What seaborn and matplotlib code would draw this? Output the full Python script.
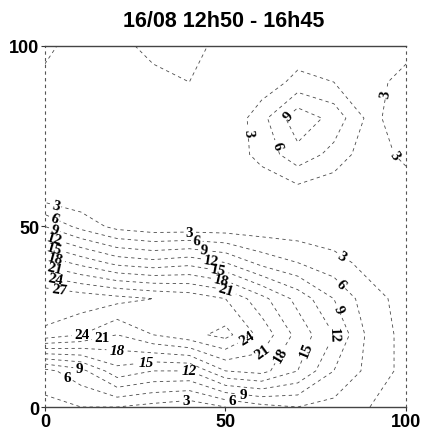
import numpy as np
import seaborn as sns
from matplotlib import pyplot as plt

# grid (x, y in 0..100, values in the contour units)
x_pos = [0, 10, 20, 30, 40, 50, 60, 70, 80, 90, 100]
y_pos = [0, 10, 20, 30, 40, 50, 60, 70, 80, 90, 100]
z_rows = [
    [2, 3, 3, 2, 1, 3, 5, 6, 5, 3, 1],            # y = 0
    [5, 8, 14, 12, 12, 18, 19, 15, 9, 5, 2],      # y = 10
    [26, 24, 21, 24, 26, 28, 23, 17, 12, 5, 2],   # y = 20
    [30, 29, 28, 27, 26, 24, 19, 14, 9, 4, 2],    # y = 30
    [20, 17, 14, 13, 14, 12, 8, 6, 4, 2, 1],      # y = 40
    [9, 5, 2, 1, 1, 1, 1, 1, 1, 0, 0],            # y = 50
    [0, 0, 0, 0, 0, 1, 1, 2, 1, 1, 1],            # y = 60
    [0, 0, 0, 0, 1, 1, 4, 8, 5, 1, 4],            # y = 70
    [1, 1, 1, 1, 2, 0, 5, 11, 8, 2, 5],           # y = 80
    [2, 1, 1, 2, 3, 2, 1, 4, 3, 2, 4],            # y = 90
    [4, 1, 2, 4, 4, 2, 1, 1, 1, 2, 2],            # y = 100
]
title = '16/08 12h50 - 16h45'
ticks = [0, 50, 100]
levels = [3, 6, 9, 12, 15, 18, 21, 24, 27]

# label spots per level: rotated along the line / upright
spots_rot = {
    3: [(3, 56), (40, 47), (83, 43), (56, 76), (93, 87), (96, 69)],
    6: [(3, 53), (42, 45), (83, 35), (63, 72)],
    9: [(3, 50), (44, 43), (83, 28), (68, 80)],
    12: [(3, 47.5), (46, 40), (81, 20)],
    15: [(3, 45), (48, 38), (75, 15)],
    18: [(3, 42), (49, 36), (68, 13)],
    21: [(3, 39), (50, 32), (62, 14)],
    24: [(3, 36), (56, 19)],
    27: [(4, 33)],
}
spots_up = {
    3: [(39, 2.5)],
    6: [(6.5, 8.5), (52, 2.5)],
    9: [(9.5, 11), (55, 4.7)],
    12: [(40, 10)],
    15: [(28, 13)],
    18: [(20, 16)],
    21: [(16, 18.5)],
    24: [(10, 21)],
}
italic_levels = [12, 15, 18]

sns.set_theme(style='white')
fig = plt.figure(figsize=(4.23, 4.39), dpi=100)
ax = fig.add_axes([0.106, 0.0706, 0.854, 0.8224])

X, Y = np.meshgrid(x_pos, y_pos)
Z = np.array(z_rows, dtype=float)

# one contour set per level so each label lands on its own line
for lv in levels:
    cs = ax.contour(X, Y, Z, levels=[lv], colors='#4a4a4a', linewidths=0.6,
                    linestyles=[(0, (4, 4))])
    up = spots_up.get(lv, [])
    if up:
        labs = cs.clabel(manual=up, inline=True, inline_spacing=1, fmt='%d', fontsize=11)
        for t in labs:
            t.set_rotation(0)
            if lv in italic_levels:
                t.set_fontstyle('italic')
    rot = spots_rot.get(lv, [])
    if rot:
        cs.clabel(manual=rot, inline=True, inline_spacing=1, fmt='%d', fontsize=11)

for t in ax.texts:
    t.set_fontfamily('Liberation Serif')
    t.set_fontweight('bold')
    t.set_color('black')

ax.set_xlim(0, 100)
ax.set_ylim(0, 100)
ax.set_xticks(ticks)
ax.set_yticks(ticks)
ax.set_xticklabels([str(t) for t in ticks], fontsize=13, fontweight='bold',
                   fontfamily='Liberation Sans', color='black')
ax.set_yticklabels([str(t) for t in ticks], fontsize=13, fontweight='bold',
                   fontfamily='Liberation Sans', color='black')
ax.tick_params(axis='both', length=3, width=0.8, color='#333333', pad=1, direction='out',
               bottom=True, left=True)

for side in ['top', 'bottom']:
    ax.spines[side].set_color('#444444')
    ax.spines[side].set_linewidth(1.0)
for side in ['left', 'right']:
    ax.spines[side].set_color('#555555')
    ax.spines[side].set_linewidth(0.8)
    ax.spines[side].set_linestyle((0, (2, 4)))

fig.text(0.528, 0.952, title, ha='center', va='center', fontsize=15.5, fontweight='bold',
         fontfamily='Liberation Sans', color='black')

fig.savefig('out.png', dpi=100)
